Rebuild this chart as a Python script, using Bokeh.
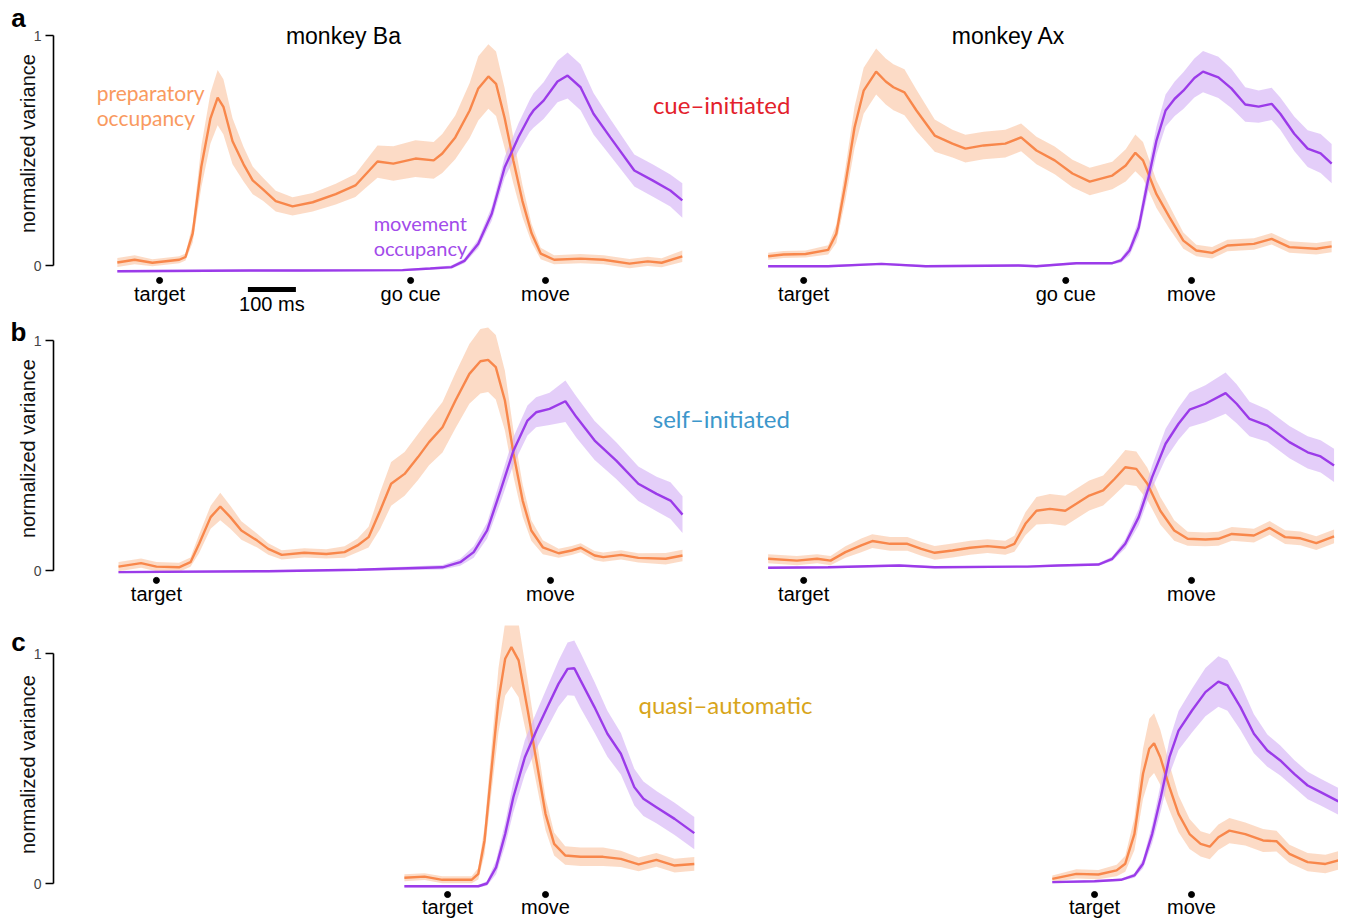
import numpy as np
from bokeh.plotting import figure
from bokeh.models import Range1d, FixedTicker
from bokeh.layouts import column
from bokeh.embed import file_html
from bokeh.resources import INLINE
from bokeh.core.properties import value

# ---------------- data (time in ms relative to movement onset) ----------------
# Row a: cue-initiated, monkey Ba
A_BA_PREP_T = [-892, -856, -819, -763, -750, -735, -717, -698, -683, -671, -652, -629, -610, -588, -562, -527,
               -485, -437, -396, -373, -350, -317, -271, -233, -215, -188, -158, -140, -119, -103, -85, -67,
               -48, -29, -10, 18, 73, 121, 175, 213, 242, 285]
A_BA_PREP = [0.013, 0.025, 0.012, 0.025, 0.037, 0.14, 0.43, 0.64, 0.73, 0.69, 0.54, 0.44, 0.37, 0.33, 0.28, 0.257,
             0.275, 0.31, 0.348, 0.40, 0.452, 0.443, 0.465, 0.457, 0.487, 0.557, 0.674, 0.77, 0.822, 0.79, 0.64, 0.457,
             0.28, 0.14, 0.052, 0.025, 0.03, 0.025, 0.008, 0.018, 0.012, 0.04]
A_BA_PREP_SE = [0.02, 0.02, 0.015, 0.015, 0.015, 0.04, 0.09, 0.11, 0.12, 0.12, 0.1, 0.075, 0.06, 0.05, 0.045, 0.04,
                0.04, 0.045, 0.05, 0.06, 0.07, 0.075, 0.08, 0.08, 0.085, 0.095, 0.12, 0.14, 0.14, 0.14, 0.13, 0.1,
                0.07, 0.04, 0.025, 0.02, 0.02, 0.02, 0.02, 0.02, 0.02, 0.025]
A_BA_MOVE_T = [-892, -615, -510, -298, -240, -196, -169, -140, -112, -85, -56, -33, -25, -4, 25, 46, 73, 100, 135,
               185, 223, 260, 285]
A_BA_MOVE = [-0.025, -0.022, -0.022, -0.02, -0.013, -0.007, 0.02, 0.095, 0.225, 0.427, 0.56, 0.65, 0.674, 0.717,
             0.80, 0.826, 0.775, 0.66, 0.557, 0.413, 0.37, 0.326, 0.283]
A_BA_MOVE_SE = [0.005, 0.005, 0.005, 0.005, 0.005, 0.007, 0.01, 0.02, 0.03, 0.045, 0.06, 0.07, 0.075, 0.08, 0.09,
                0.1, 0.1, 0.09, 0.08, 0.07, 0.07, 0.07, 0.075]
A_BA_EVENT_T = [-804, -281, 0]
A_BA_EVENTS = ["target", "go cue", "move"]

# Row a: cue-initiated, monkey Ax
A_AX_PREP_T = [-882, -850, -804, -757, -740, -721, -702, -683, -657, -637, -621, -598, -573, -535, -498, -471,
               -433, -388, -355, -323, -285, -248, -212, -165, -137, -117, -101, -73, -46, -17, 10, 43, 75, 130,
               167, 204, 260, 292]
A_AX_PREP = [0.040, 0.048, 0.05, 0.068, 0.138, 0.355, 0.60, 0.76, 0.843, 0.80, 0.775, 0.753, 0.674, 0.565, 0.53,
             0.508, 0.522, 0.53, 0.557, 0.50, 0.457, 0.40, 0.365, 0.391, 0.435, 0.49, 0.457, 0.31, 0.21, 0.108,
             0.065, 0.055, 0.087, 0.094, 0.116, 0.08, 0.073, 0.083]
A_AX_PREP_SE = [0.015, 0.015, 0.015, 0.02, 0.04, 0.07, 0.09, 0.1, 0.1, 0.1, 0.1, 0.1, 0.09, 0.07, 0.06, 0.06,
                0.06, 0.06, 0.06, 0.06, 0.06, 0.06, 0.06, 0.06, 0.07, 0.08, 0.08, 0.06, 0.05, 0.035, 0.025, 0.025,
                0.025, 0.025, 0.025, 0.025, 0.025, 0.025]
A_AX_MOVE_T = [-882, -757, -646, -554, -360, -323, -240, -165, -147, -129, -110, -92, -73, -54, -35, -17, 6, 24,
               56, 83, 112, 140, 167, 185, 214, 242, 269, 292]
A_AX_MOVE = [-0.003, -0.003, 0.007, -0.003, 0.0, -0.003, 0.01, 0.01, 0.022, 0.065, 0.165, 0.355, 0.543, 0.674,
             0.725, 0.76, 0.815, 0.843, 0.818, 0.77, 0.70, 0.691, 0.703, 0.66, 0.573, 0.508, 0.487, 0.443]
A_AX_MOVE_SE = [0.005, 0.005, 0.005, 0.005, 0.005, 0.005, 0.005, 0.005, 0.01, 0.02, 0.035, 0.05, 0.06, 0.07,
                0.075, 0.08, 0.085, 0.09, 0.09, 0.085, 0.075, 0.07, 0.07, 0.07, 0.075, 0.08, 0.085, 0.085]
A_AX_EVENT_T = [-808, -262, 0]
A_AX_EVENTS = ["target", "go cue", "move"]

# Row b: self-initiated, monkey Ba
B_BA_PREP_T = [-900, -853, -821, -774, -750, -732, -708, -688, -667, -644, -611, -588, -560, -513, -467, -429,
               -402, -379, -355, -332, -304, -276, -253, -225, -198, -169, -146, -130, -114, -95, -77, -58, -40,
               -16, 17, 44, 63, 92, 110, 147, 183, 240, 275]
B_BA_PREP = [0.017, 0.032, 0.017, 0.014, 0.036, 0.116, 0.232, 0.278, 0.232, 0.174, 0.13, 0.094, 0.068, 0.077,
             0.072, 0.08, 0.109, 0.145, 0.26, 0.377, 0.42, 0.493, 0.558, 0.623, 0.739, 0.855, 0.91, 0.916, 0.884,
             0.739, 0.507, 0.304, 0.174, 0.101, 0.075, 0.087, 0.099, 0.065, 0.058, 0.068, 0.055, 0.051, 0.065]
B_BA_PREP_SE = [0.02, 0.02, 0.02, 0.02, 0.02, 0.04, 0.05, 0.06, 0.05, 0.04, 0.03, 0.025, 0.02, 0.02, 0.02, 0.025,
                0.03, 0.045, 0.08, 0.095, 0.095, 0.1, 0.1, 0.11, 0.12, 0.13, 0.14, 0.14, 0.14, 0.13, 0.1, 0.07,
                0.045, 0.03, 0.02, 0.02, 0.02, 0.02, 0.02, 0.02, 0.02, 0.025, 0.025]
B_BA_MOVE_T = [-900, -588, -402, -225, -188, -160, -132, -104, -77, -48, -30, -2, 31, 54, 92, 137, 183, 221, 250,
               275]
B_BA_MOVE = [-0.007, -0.003, 0.003, 0.014, 0.036, 0.08, 0.174, 0.348, 0.522, 0.652, 0.688, 0.703, 0.736, 0.667,
             0.565, 0.478, 0.377, 0.333, 0.304, 0.243]
B_BA_MOVE_SE = [0.005, 0.005, 0.005, 0.01, 0.015, 0.025, 0.035, 0.05, 0.06, 0.065, 0.065, 0.07, 0.09, 0.09,
                0.085, 0.08, 0.075, 0.075, 0.08, 0.08]
B_BA_EVENT_T = [-821, 0]
B_BA_EVENTS = ["target", "move"]

# Row b: self-initiated, monkey Ax
B_AX_PREP_T = [-882, -822, -780, -752, -721, -688, -665, -628, -592, -563, -535, -498, -461, -425, -388, -369,
               -346, -323, -295, -263, -240, -213, -184, -160, -138, -115, -92, -65, -36, -8, 29, 56, 84, 130,
               163, 195, 227, 260, 297]
B_AX_PREP = [0.051, 0.043, 0.051, 0.043, 0.08, 0.109, 0.128, 0.116, 0.116, 0.094, 0.077, 0.087, 0.099, 0.106,
             0.099, 0.116, 0.203, 0.26, 0.268, 0.26, 0.29, 0.326, 0.348, 0.399, 0.449, 0.442, 0.377, 0.26, 0.174,
             0.138, 0.135, 0.138, 0.159, 0.152, 0.185, 0.145, 0.14, 0.119, 0.148]
B_AX_PREP_SE = [0.02, 0.02, 0.02, 0.02, 0.025, 0.03, 0.03, 0.03, 0.03, 0.03, 0.03, 0.03, 0.03, 0.03, 0.03, 0.035,
                0.05, 0.06, 0.065, 0.065, 0.065, 0.065, 0.065, 0.07, 0.075, 0.075, 0.07, 0.06, 0.045, 0.03, 0.03,
                0.03, 0.03, 0.03, 0.03, 0.03, 0.03, 0.03, 0.03]
B_AX_MOVE_T = [-882, -757, -609, -535, -342, -277, -194, -165, -138, -110, -82, -54, -27, -4, 29, 71, 94, 121,
               158, 204, 242, 269, 297]
B_AX_MOVE = [0.012, 0.014, 0.022, 0.014, 0.017, 0.022, 0.026, 0.051, 0.116, 0.232, 0.406, 0.551, 0.638, 0.699,
             0.725, 0.771, 0.725, 0.659, 0.63, 0.558, 0.514, 0.496, 0.457]
B_AX_MOVE_SE = [0.005, 0.005, 0.005, 0.005, 0.005, 0.005, 0.005, 0.01, 0.02, 0.035, 0.05, 0.065, 0.07, 0.075,
                0.08, 0.09, 0.085, 0.075, 0.07, 0.07, 0.07, 0.07, 0.072]
B_AX_EVENT_T = [-808, 0]
B_AX_EVENTS = ["target", "move"]

# Row c: quasi-automatic, monkey Ba
C_BA_PREP_T = [-294, -252, -215, -154, -140, -127, -112, -98, -84, -71, -56, -37, -19, 0, 18, 41, 73, 120, 157,
               194, 231, 269, 310]
C_BA_PREP = [0.025, 0.03, 0.016, 0.016, 0.042, 0.187, 0.506, 0.796, 0.977, 1.028, 0.97, 0.752, 0.535, 0.303,
             0.172, 0.122, 0.116, 0.116, 0.107, 0.083, 0.103, 0.078, 0.085]
C_BA_PREP_SE = [0.015, 0.015, 0.015, 0.015, 0.025, 0.06, 0.1, 0.14, 0.16, 0.17, 0.16, 0.13, 0.1, 0.07, 0.05,
                0.04, 0.04, 0.04, 0.035, 0.03, 0.03, 0.03, 0.03]
C_BA_MOVE_T = [-294, -140, -122, -103, -84, -67, -43, -19, 4, 27, 46, 60, 73, 102, 129, 157, 185, 204, 231, 269,
               310]
C_BA_MOVE = [-0.012, -0.012, 0.0, 0.07, 0.215, 0.375, 0.549, 0.665, 0.767, 0.868, 0.933, 0.936, 0.883, 0.767,
             0.651, 0.564, 0.419, 0.368, 0.332, 0.281, 0.219]
C_BA_MOVE_SE = [0.005, 0.005, 0.01, 0.03, 0.05, 0.065, 0.075, 0.08, 0.09, 0.1, 0.115, 0.12, 0.12, 0.11, 0.1,
                0.09, 0.08, 0.075, 0.07, 0.07, 0.07]
C_BA_EVENT_T = [-204, 0]
C_BA_EVENTS = ["target", "move"]

# Row c: quasi-automatic, monkey Ax
C_AX_PREP_T = [-290, -240, -194, -156, -138, -119, -101, -88, -78, -65, -46, -27, -4, 19, 38, 56, 79, 112, 149,
               177, 204, 242, 279, 310]
C_AX_PREP = [0.02, 0.042, 0.039, 0.057, 0.086, 0.215, 0.477, 0.586, 0.61, 0.549, 0.419, 0.303, 0.215, 0.172,
             0.16, 0.201, 0.23, 0.215, 0.187, 0.184, 0.129, 0.093, 0.085, 0.103]
C_AX_PREP_SE = [0.015, 0.02, 0.02, 0.025, 0.035, 0.07, 0.11, 0.13, 0.13, 0.12, 0.1, 0.08, 0.065, 0.055, 0.055,
                0.055, 0.055, 0.05, 0.05, 0.045, 0.04, 0.04, 0.04, 0.04]
C_AX_MOVE_T = [-290, -202, -147, -119, -101, -82, -64, -46, -27, 1, 29, 56, 75, 102, 130, 158, 185, 214, 242,
               269, 306]
C_AX_MOVE = [0.006, 0.01, 0.016, 0.035, 0.086, 0.215, 0.375, 0.549, 0.665, 0.752, 0.832, 0.878, 0.861, 0.767,
             0.651, 0.578, 0.535, 0.477, 0.426, 0.397, 0.357]
C_AX_MOVE_SE = [0.005, 0.005, 0.005, 0.01, 0.02, 0.04, 0.06, 0.075, 0.085, 0.095, 0.105, 0.11, 0.11, 0.1, 0.085,
                0.07, 0.065, 0.06, 0.06, 0.058, 0.058]
C_AX_EVENT_T = [-202, 0]
C_AX_EVENTS = ["target", "move"]

MONKEYS = ["monkey Ba", "monkey Ax"]
CONDITIONS = ["cue\u2013initiated", "self\u2013initiated", "quasi\u2013automatic"]
PANEL_LETTERS = ["a", "b", "c"]
Y_TICKS = [0, 1]
Y_LABEL = "normalized variance"
SCALE_BAR_MS = 100

# ---------------- style / layout ----------------
ORANGE = "#F8874B"
ORANGE_TEXT = "#F99A60"
ORANGE_FILL = "#FBC8A8"
PURPLE = "#9B3BE9"
PURPLE_TEXT = "#A24BEA"
PURPLE_FILL = "#D5B3F6"
COND_COLORS = ["#E3212C", "#3D97CB", "#D8A51B"]
SANS = "Liberation Sans"
HUMANIST = "Lato"

PX_PER_MS = 0.48
FRAME_L, FRAME_R = 0, 1338            # page pixels of the plotting frame
AXIS_PX = 53                          # page x of the y-axis line
FIG_W = FRAME_R - FRAME_L
RIGHT_MOVE_PX = 1191


def x_rng(move_px):
    return Range1d((FRAME_L - move_px) / PX_PER_MS, (FRAME_R - move_px) / PX_PER_MS)


def draw_panel(p, rname, pt, pv, pse, mt, mv, mse, ev_t, ev_lab, dot_y, lab_y):
    pv, pse, mv, mse = map(np.asarray, (pv, pse, mv, mse))
    p.varea(x=pt, y1=pv - pse, y2=pv + pse, fill_color=ORANGE_FILL, fill_alpha=0.65, x_range_name=rname)
    p.varea(x=mt, y1=mv - mse, y2=mv + mse, fill_color=PURPLE_FILL, fill_alpha=0.65, x_range_name=rname)
    p.line(pt, pv.tolist(), line_color=ORANGE, line_width=2.4, x_range_name=rname)
    p.line(mt, mv.tolist(), line_color=PURPLE, line_width=2.4, x_range_name=rname)
    p.scatter(ev_t, [dot_y] * len(ev_t), size=6, color="black", x_range_name=rname)
    p.text(ev_t, [lab_y] * len(ev_t), text=ev_lab, text_font=value(SANS), text_font_size="20px",
           text_align="center", text_baseline="middle", text_color="black", x_range_name=rname)


def make_row(height, y0, y1, left_move_px, letter, letter_y, ylab_y):
    p = figure(width=FIG_W, height=height, x_range=x_rng(left_move_px), y_range=Range1d(y0, y1),
               output_backend="svg", toolbar_location=None, x_axis_location=None,
               min_border_left=0, min_border_right=0, min_border_top=0, min_border_bottom=0)
    p.extra_x_ranges = {"right": x_rng(RIGHT_MOVE_PX)}
    p.outline_line_color = None
    p.grid.visible = False
    p.background_fill_color = "white"
    p.border_fill_color = "white"
    ax = p.yaxis[0]
    ax.fixed_location = (AXIS_PX - left_move_px) / PX_PER_MS
    ax.ticker = FixedTicker(ticks=Y_TICKS)
    ax.bounds = (0, 1)
    ax.major_tick_in = 0
    ax.major_tick_out = 8
    ax.minor_tick_in = 0
    ax.minor_tick_out = 0
    ax.axis_line_width = 1.6
    ax.major_tick_line_width = 1.6
    ax.major_label_text_font = SANS
    ax.major_label_text_font_size = "14px"
    ax.major_label_standoff = 4
    x_letter = (18 - left_move_px) / PX_PER_MS
    x_ylab = (27 - left_move_px) / PX_PER_MS
    p.text([x_letter], [letter_y], text=[letter], text_font=value(SANS), text_font_style="bold",
           text_font_size="26px", text_align="center", text_baseline="middle")
    p.text([x_ylab], [ylab_y], text=[Y_LABEL], text_font=value(SANS), text_font_size="20px",
           angle=np.pi / 2, text_align="center", text_baseline="middle", text_color="#111111")
    return p


# ---- row a (page y 0..316; zero at y=265, one at y=35) ----
pa = make_row(316, (265 - 316) / 230, 265 / 230, 545, PANEL_LETTERS[0], 1.075, 0.53)
draw_panel(pa, "default", A_BA_PREP_T, A_BA_PREP, A_BA_PREP_SE, A_BA_MOVE_T, A_BA_MOVE, A_BA_MOVE_SE,
           A_BA_EVENT_T, A_BA_EVENTS, -0.065, -0.126)
draw_panel(pa, "right", A_AX_PREP_T, A_AX_PREP, A_AX_PREP_SE, A_AX_MOVE_T, A_AX_MOVE, A_AX_MOVE_SE,
           A_AX_EVENT_T, A_AX_EVENTS, -0.065, -0.122)
pa.text([-421], [0.996], text=[MONKEYS[0]], text_font=value(SANS), text_font_size="23px",
        text_align="center", text_baseline="middle")
pa.text([-381], [0.996], text=[MONKEYS[1]], text_font=value(SANS), text_font_size="23px",
        text_align="center", text_baseline="middle", x_range_name="right")
pa.text([-935, -935], [0.752, 0.643], text=["preparatory", "occupancy"], text_font=value(HUMANIST),
        text_font_size="21px", text_align="left", text_baseline="middle", text_color=ORANGE_TEXT)
pa.text([-358, -358], [0.183, 0.074], text=["movement", "occupancy"], text_font=value(HUMANIST),
        text_font_size="20px", text_align="left", text_baseline="middle", text_color=PURPLE_TEXT)
pa.text([367], [0.70], text=[CONDITIONS[0]], text_font=value(HUMANIST), text_font_size="24px",
        text_align="center", text_baseline="middle", text_color=COND_COLORS[0])
pa.segment(x0=[-620], y0=[-0.104], x1=[-620 + SCALE_BAR_MS], y1=[-0.104], line_color="black", line_width=5)
pa.text([-620 + SCALE_BAR_MS / 2], [-0.168], text=[f"{SCALE_BAR_MS} ms"], text_font=value(SANS),
        text_font_size="20px", text_align="center", text_baseline="middle")

# ---- row b (page y 316..625; zero at y=570) ----
pb = make_row(309, (570 - 625) / 230, (570 - 316) / 230, 550, PANEL_LETTERS[1], 1.035, 0.53)
draw_panel(pb, "default", B_BA_PREP_T, B_BA_PREP, B_BA_PREP_SE, B_BA_MOVE_T, B_BA_MOVE, B_BA_MOVE_SE,
           B_BA_EVENT_T, B_BA_EVENTS, -0.043, -0.104)
draw_panel(pb, "right", B_AX_PREP_T, B_AX_PREP, B_AX_PREP_SE, B_AX_MOVE_T, B_AX_MOVE, B_AX_MOVE_SE,
           B_AX_EVENT_T, B_AX_EVENTS, -0.043, -0.104)
pb.text([356], [0.661], text=[CONDITIONS[1]], text_font=value(HUMANIST), text_font_size="24px",
        text_align="center", text_baseline="middle", text_color=COND_COLORS[1])

# ---- row c (page y 625..918; zero at y=883) ----
pc = make_row(293, (883 - 918) / 230, (883 - 625) / 230, 545, PANEL_LETTERS[2], 1.048, 0.517)
draw_panel(pc, "default", C_BA_PREP_T, C_BA_PREP, C_BA_PREP_SE, C_BA_MOVE_T, C_BA_MOVE, C_BA_MOVE_SE,
           C_BA_EVENT_T, C_BA_EVENTS, -0.048, -0.104)
draw_panel(pc, "right", C_AX_PREP_T, C_AX_PREP, C_AX_PREP_SE, C_AX_MOVE_T, C_AX_MOVE, C_AX_MOVE_SE,
           C_AX_EVENT_T, C_AX_EVENTS, -0.048, -0.104)
pc.text([375], [0.778], text=[CONDITIONS[2]], text_font=value(HUMANIST), text_font_size="24px",
        text_align="center", text_baseline="middle", text_color=COND_COLORS[2])

layout = column(pa, pb, pc, spacing=0)
open("out.html", "w").write(file_html(layout, INLINE))
